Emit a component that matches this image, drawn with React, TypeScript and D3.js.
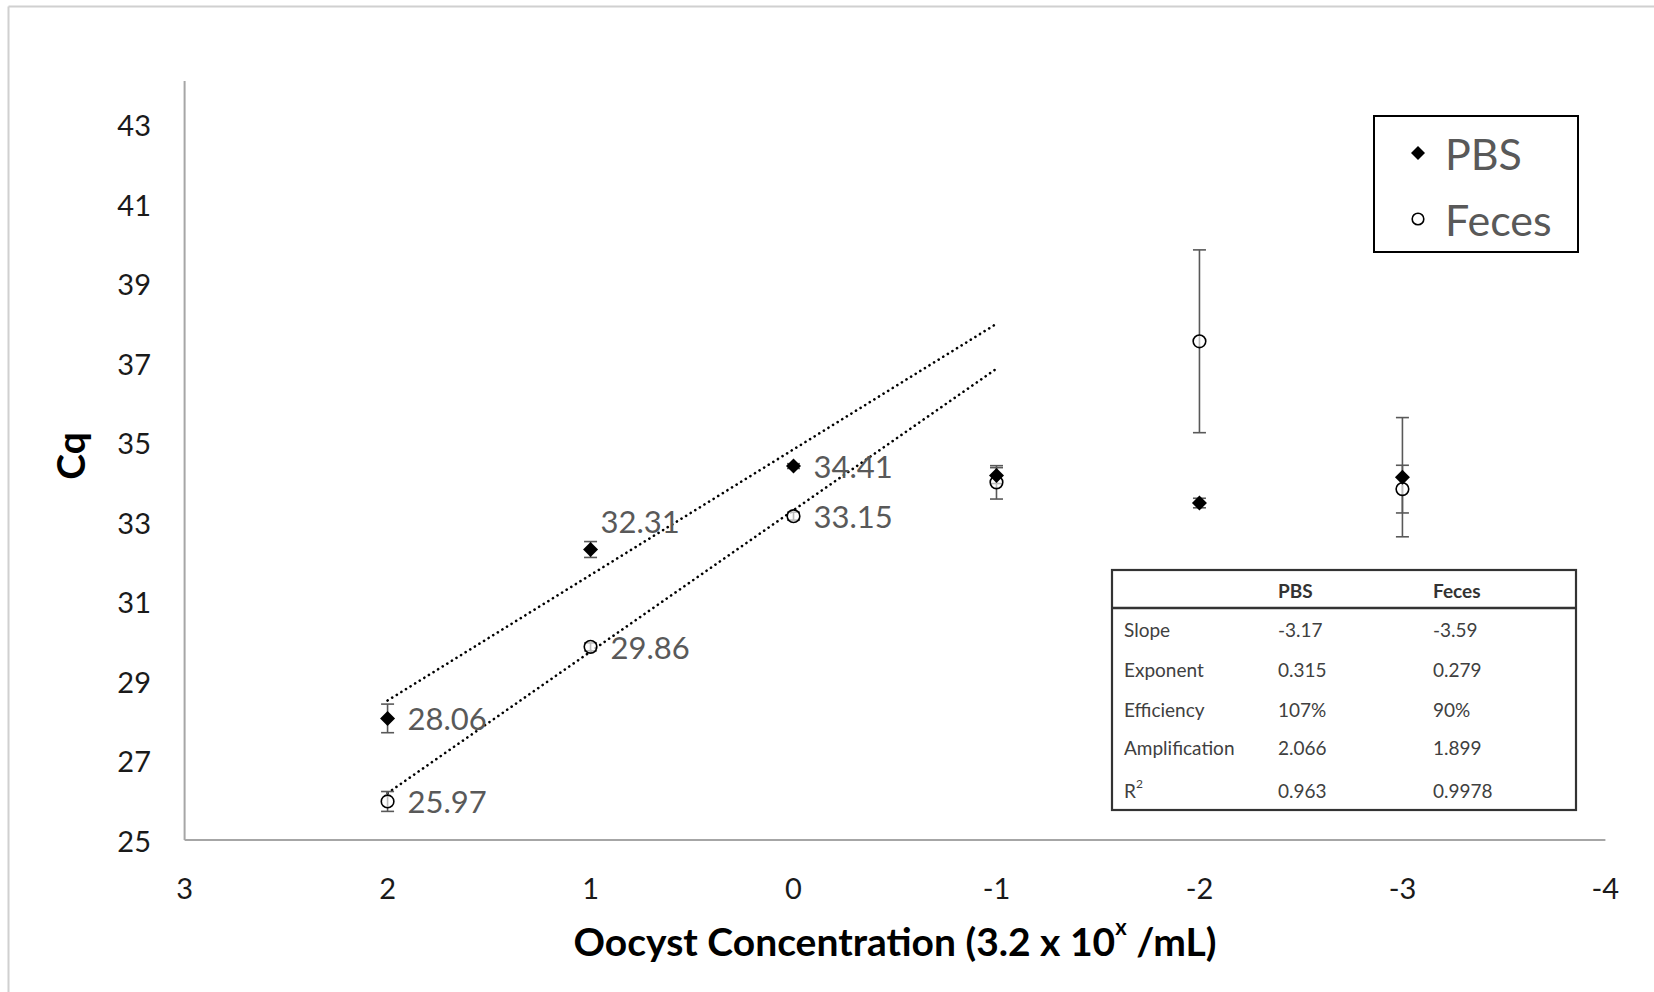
import React from 'react';
import * as d3 from 'd3';

// oocyst concentration exponents (3.2 x 10^x /mL)
const concentrations = [2, 1, 0, -1, -2, -3];

// mean Cq and error
const pbsCq = [28.06, 32.31, 34.41, 34.17, 33.48, 34.13];
const pbsErr = [0.36, 0.2, 0.06, 0.2, 0.12, 1.5];
const fecesCq = [25.97, 29.86, 33.15, 34.0, 37.55, 33.83];
const fecesErr = [0.25, 0.1, 0.1, 0.42, 2.3, 0.6];

// how many points carry a value label
const labelledPoints = 3;

// linear trendlines fitted over the 2 .. -1 range
const trendRange = [2, -1];
const pbsTrend = { slope: -3.16, intercept: 34.83 };
const fecesTrend = { slope: -3.56, intercept: 33.3 };

const yTicks = [25, 27, 29, 31, 33, 35, 37, 39, 41, 43];
const xTicks = [3, 2, 1, 0, -1, -2, -3, -4];

const statNames = ['Slope', 'Exponent', 'Efficiency', 'Amplification', 'R2'];
const pbsStats = ['-3.17', '0.315', '107%', '2.066', '0.963'];
const fecesStats = ['-3.59', '0.279', '90%', '1.899', '0.9978'];

const W = 1654;
const H = 992;
const FONT = 'Lato, "Open Sans", sans-serif';

// square rotated 45deg, like Excel's diamond marker
const diamondPath = (half: number) => `M0,${-half}L${half},0L0,${half}L${-half},0Z`;

const App: React.FC = () => {
  const x = d3.scaleLinear().domain([3, -4]).range([184.6, 1605.4]);
  const y = d3.scaleLinear().domain([25, 44.1]).range([840, 81]);

  const trendLine = d3.line<number>()
    .x(d => d[0])
    .y(d => d[1]);

  const trendPath = (t: { slope: number; intercept: number }) =>
    trendLine(trendRange.map(v => [x(v), y(t.slope * v + t.intercept)]) as any) || '';

  const errorBar = (cx: number, v: number, e: number, key: string) => {
    const top = y(v + e);
    const bot = y(v - e);
    return (
      <g key={key} stroke="#595959" strokeWidth={1.6}>
        <line x1={cx} x2={cx} y1={top} y2={bot} />
        <line x1={cx - 6.5} x2={cx + 6.5} y1={top} y2={top} />
        <line x1={cx - 6.5} x2={cx + 6.5} y1={bot} y2={bot} />
      </g>
    );
  };

  // table geometry
  const tb = { x0: 1112, y0: 570, x1: 1576, y1: 810 };
  const headerY = 590;
  const rowYs = [629, 669, 709, 747, 790];
  const colX = [1124, 1278, 1433];

  return (
    <div style={{ position: 'absolute', left: 0, top: 0 }}>
      <svg width={W} height={H} style={{ display: 'block', background: '#fff' }} fontFamily={FONT}>
        {/* outer chart frame (only top and left visible) */}
        <line x1={8.5} x2={W} y1={6.5} y2={6.5} stroke="#d0d0d0" strokeWidth={2} />
        <line x1={8.5} x2={8.5} y1={6.5} y2={H} stroke="#d0d0d0" strokeWidth={2} />

        {/* axes */}
        <line x1={x(3)} x2={x(3)} y1={y(44.1)} y2={y(25)} stroke="#a6a6a6" strokeWidth={2} />
        <line x1={x(3)} x2={x(-4)} y1={y(25)} y2={y(25)} stroke="#a6a6a6" strokeWidth={2} />

        {yTicks.map(t => (
          <text key={'y' + t} x={151} y={y(t)} textAnchor="end" dominantBaseline="central"
            fontSize={29} fill="#1a1a1a">{t}</text>
        ))}
        {xTicks.map(t => (
          <text key={'x' + t} x={x(t)} y={887} textAnchor="middle" dominantBaseline="central"
            fontSize={29} fill="#1a1a1a">{t}</text>
        ))}

        <text x={895} y={941} textAnchor="middle" dominantBaseline="central" fontSize={39}
          fontWeight="bold" fill="#000">
          Oocyst Concentration (3.2 x 10<tspan fontSize={22} dy={-15}>x</tspan>
          <tspan dy={15}> /mL)</tspan>
        </text>
        <text transform="translate(70,456) rotate(-90)" textAnchor="middle"
          dominantBaseline="central" fontSize={39} fontWeight="bold" fill="#000">Cq</text>

        {/* trendlines */}
        {[pbsTrend, fecesTrend].map((t, i) => (
          <path key={'t' + i} d={trendPath(t)} fill="none" stroke="#000" strokeWidth={2.6}
            strokeDasharray="0.1 5.3" strokeLinecap="round" />
        ))}

        {/* error bars */}
        {concentrations.map((c, i) => errorBar(x(c), pbsCq[i], pbsErr[i], 'pe' + i))}
        {concentrations.map((c, i) => errorBar(x(c), fecesCq[i], fecesErr[i], 'fe' + i))}

        {/* markers */}
        {concentrations.map((c, i) => (
          <circle key={'fm' + i} cx={x(c)} cy={y(fecesCq[i])} r={6.3} fill="#fff" fillOpacity={0.6}
            stroke="#000" strokeWidth={1.6} />
        ))}
        {concentrations.map((c, i) => (
          <path key={'pm' + i} d={diamondPath(7.5)} transform={`translate(${x(c)},${y(pbsCq[i])})`} fill="#000" />
        ))}

        {/* value labels */}
        {concentrations.slice(0, labelledPoints).map((c, i) => {
          const above = i === 1;
          return (
            <text key={'pl' + i} x={x(c) + (above ? 10 : 20)} y={y(pbsCq[i]) - (above ? 29 : 0)}
              dominantBaseline="central" fontSize={31} fill="#595959">{pbsCq[i].toFixed(2)}</text>
          );
        })}
        {concentrations.slice(0, labelledPoints).map((c, i) => (
          <text key={'fl' + i} x={x(c) + 20} y={y(fecesCq[i])} dominantBaseline="central"
            fontSize={31} fill="#595959">{fecesCq[i].toFixed(2)}</text>
        ))}

        {/* legend */}
        <rect x={1374} y={116} width={204} height={136} fill="#fff" stroke="#000" strokeWidth={2} />
        <path d={diamondPath(7)} transform="translate(1418,153)" fill="#000" />
        <circle cx={1418} cy={219} r={5.8} fill="#fff" stroke="#000" strokeWidth={1.6} />
        <text x={1445} y={153} dominantBaseline="central" fontSize={43} fill="#595959">PBS</text>
        <text x={1445} y={219} dominantBaseline="central" fontSize={43} fill="#595959">Feces</text>

        {/* statistics table */}
        <rect x={tb.x0} y={tb.y0} width={tb.x1 - tb.x0} height={tb.y1 - tb.y0} fill="#fff"
          stroke="#333" strokeWidth={2.2} />
        <line x1={tb.x0} x2={tb.x1} y1={608} y2={608} stroke="#333" strokeWidth={2.6} />
        <text x={colX[1]} y={headerY} dominantBaseline="central" fontSize={19} fontWeight="bold" fill="#333">PBS</text>
        <text x={colX[2]} y={headerY} dominantBaseline="central" fontSize={19} fontWeight="bold" fill="#333">Feces</text>
        {statNames.map((n, i) => (
          <g key={'row' + i} fontSize={19} fill="#404040">
            <text x={colX[0]} y={rowYs[i]} dominantBaseline="central">
              {n === 'R2' ? <>R<tspan fontSize={12} dy={-7}>2</tspan></> : n}
            </text>
            <text x={colX[1]} y={rowYs[i]} dominantBaseline="central">{pbsStats[i]}</text>
            <text x={colX[2]} y={rowYs[i]} dominantBaseline="central">{fecesStats[i]}</text>
          </g>
        ))}
      </svg>
    </div>
  );
};

export default App;
